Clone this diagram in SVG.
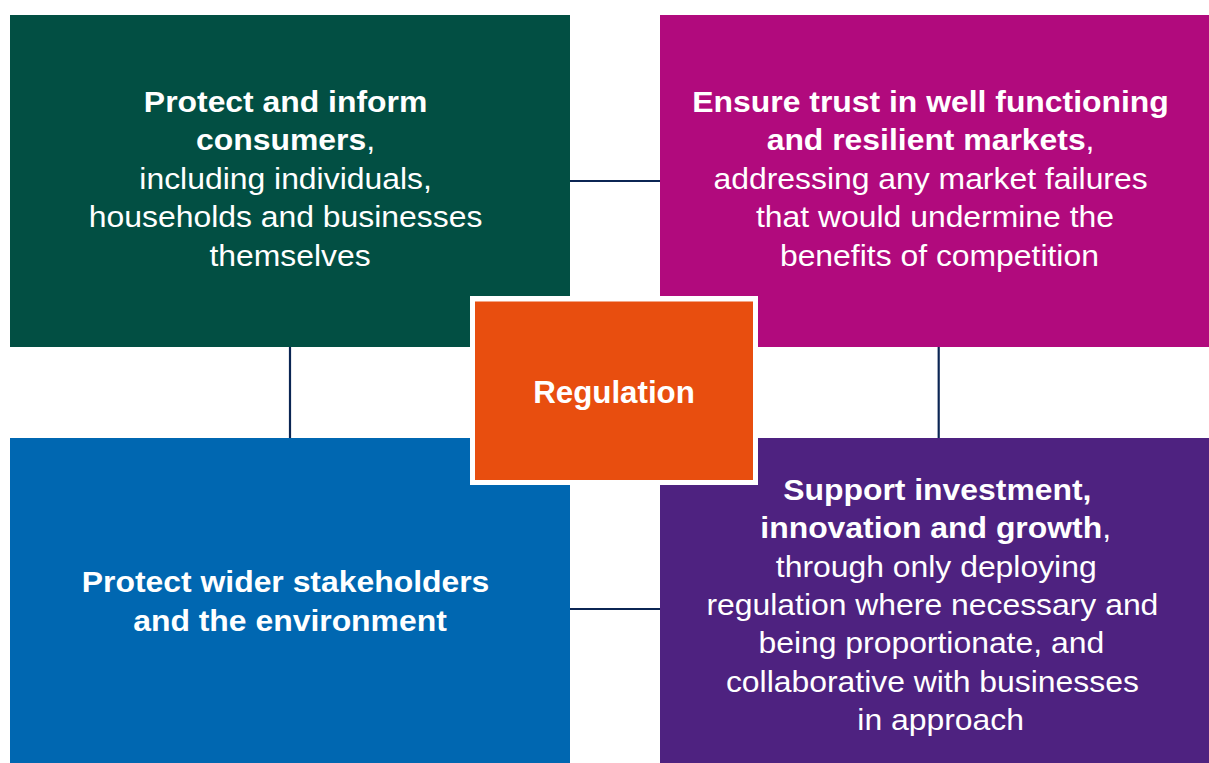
<svg xmlns="http://www.w3.org/2000/svg" width="1209" height="763" viewBox="0 0 1209 763">
  <style>
    .box-text { font-family: "Liberation Sans", Arial, sans-serif; font-size: 29px; fill: #ffffff; text-anchor: middle; }
    .b { font-weight: bold; }
    .conn { stroke: #0b2553; stroke-width: 2.2; fill: none; }
    .hub-text { font-family: "Liberation Sans", Arial, sans-serif; font-size: 31.3px; font-weight: bold; fill: #ffffff; text-anchor: middle; }
  </style>
  <rect x="0" y="0" width="1209" height="763" fill="#ffffff"/>

  <!-- links between the four objectives -->
  <g id="connectors">
    <line class="conn" x1="570" y1="181" x2="660" y2="181"/>
    <line class="conn" x1="290" y1="347" x2="290" y2="438"/>
    <line class="conn" x1="938.7" y1="347" x2="938.7" y2="438"/>
    <line class="conn" x1="570" y1="609" x2="660" y2="609"/>
  </g>

  <g id="protect-consumers">
    <rect x="10" y="15" width="560" height="332" fill="#024f43"/>
    <g transform="translate(290 0) scale(1.1 1)">
      <text class="box-text">
        <tspan class="b" x="0" y="112">Protect and inform</tspan>
        <tspan x="0" y="150.5"><tspan class="b">consumers</tspan>,</tspan>
        <tspan x="0" y="189">including individuals,</tspan>
        <tspan x="0" y="227.5">households and businesses</tspan>
        <tspan x="0" y="266">themselves</tspan>
      </text>
    </g>
  </g>

  <g id="ensure-trust">
    <rect x="660" y="15" width="549" height="332" fill="#b10a7d"/>
    <g transform="translate(935 0) scale(1.1 1)">
      <text class="box-text">
        <tspan class="b" x="0" y="112">Ensure trust in well functioning</tspan>
        <tspan x="0" y="150.5"><tspan class="b">and resilient markets</tspan>,</tspan>
        <tspan x="0" y="189">addressing any market failures</tspan>
        <tspan x="4" y="227.5">that would undermine the</tspan>
        <tspan x="4" y="266">benefits of competition</tspan>
      </text>
    </g>
  </g>

  <g id="protect-stakeholders">
    <rect x="10" y="438" width="560" height="325" fill="#0067b1"/>
    <g transform="translate(290 0) scale(1.1 1)">
      <text class="box-text b">
        <tspan x="0" y="592.5">Protect wider stakeholders</tspan>
        <tspan x="0" y="631.5">and the environment</tspan>
      </text>
    </g>
  </g>

  <g id="support-investment">
    <rect x="660" y="438" width="549" height="325" fill="#4e2280"/>
    <g transform="translate(939 0) scale(1.1 1)">
      <text class="box-text">
        <tspan class="b" x="2.5" y="500">Support investment,</tspan>
        <tspan x="1" y="538.5"><tspan class="b">innovation and growth</tspan>,</tspan>
        <tspan x="1.5" y="577">through only deploying</tspan>
        <tspan x="-2" y="615">regulation where necessary and</tspan>
        <tspan x="-3" y="653.5">being proportionate, and</tspan>
        <tspan x="-2" y="692">collaborative with businesses</tspan>
        <tspan x="1.5" y="730">in approach</tspan>
      </text>
    </g>
  </g>

  <g id="regulation">
    <rect x="470" y="296" width="288" height="189" fill="#ffffff"/>
    <rect x="475" y="301.5" width="278" height="178.5" fill="#e84e0f"/>
    <text class="hub-text" x="614" y="402.5">Regulation</text>
  </g>
</svg>
